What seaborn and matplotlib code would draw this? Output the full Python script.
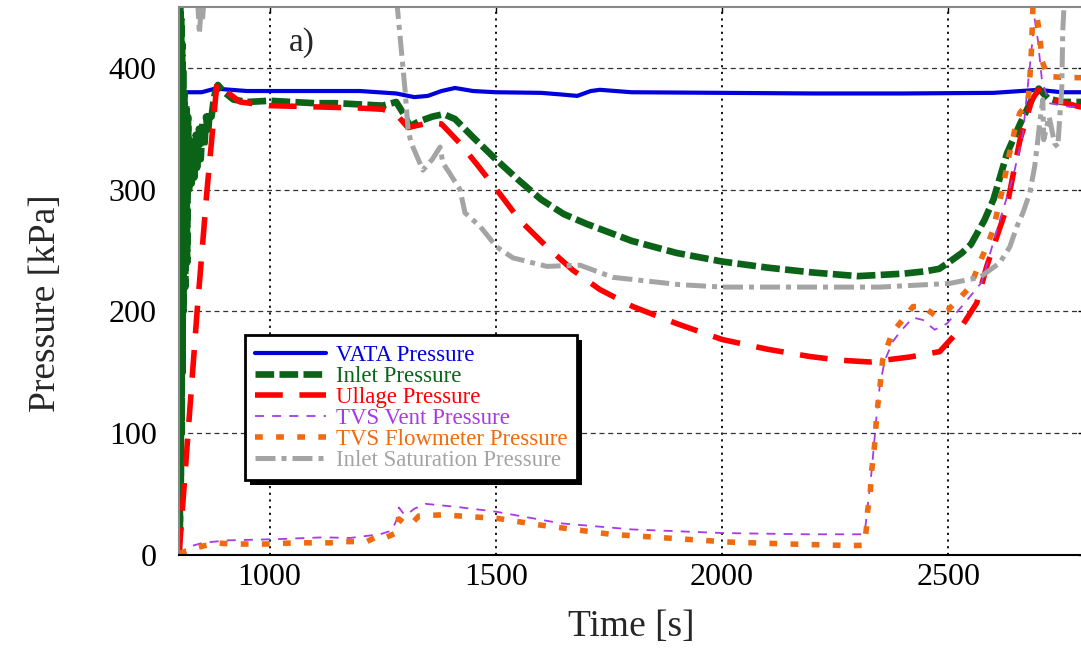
import matplotlib
matplotlib.use("Agg")
import matplotlib.pyplot as plt
from matplotlib.patches import Rectangle
import seaborn as sns

# ---------------- data ----------------
vata_t = [800, 850, 880, 950, 1000, 1100, 1200, 1280, 1320, 1350, 1380, 1410, 1450, 1500,
          1600, 1650, 1680, 1710, 1730, 1800, 2000, 2200, 2400, 2600, 2700, 2750, 2800]
vata_p = [380, 380, 383, 381, 381, 381, 381, 379, 376, 377, 381, 383.5, 381, 380,
          379.5, 378, 377, 381, 382, 380, 379.5, 379, 379, 379.5, 382, 380, 380]

inlet_t = [800, 801, 802, 803, 804, 805, 806, 807, 808, 809, 810, 812, 814, 816, 818, 820, 822,
           825, 828, 831, 834, 837, 840, 844, 848, 852, 856, 860, 864, 868, 872, 876, 880, 886,
           900, 920, 950, 1000, 1050, 1100, 1150, 1200, 1250, 1280, 1300, 1310, 1330, 1360, 1385,
           1410, 1450, 1500, 1550, 1600, 1650, 1700, 1750, 1800, 1900, 2000, 2100, 2200, 2300,
           2350, 2400, 2450, 2480, 2500, 2530, 2550, 2580, 2600, 2630, 2660, 2690, 2700, 2720,
           2750, 2800]
inlet_p = [0, 460, 20, 450, 60, 440, 100, 420, 150, 400, 200, 380, 220, 370, 240, 360, 300,
           340, 305, 335, 310, 345, 318, 350, 325, 355, 335, 360, 345, 365, 360, 372, 380, 386,
           380, 374, 372, 373, 372, 371, 371, 370, 369, 372, 360, 352, 356, 360, 362,
           358, 343, 325, 308, 292, 280, 272, 265, 258, 248, 241, 236, 232, 229,
           230, 231, 233, 235, 240, 248, 255, 275, 292, 330, 355, 378, 383, 375,
           372, 372]

ullage_t = [800, 820, 840, 862, 884, 900, 935, 1000, 1100, 1200, 1250, 1280, 1306, 1330, 1355,
            1380, 1421, 1460, 1502, 1553, 1613, 1670, 1730, 1803, 1900, 2000, 2100, 2194, 2260,
            2327, 2415, 2481, 2525, 2563, 2585, 2629, 2658, 2685, 2700, 2709, 2750, 2791, 2800]
ullage_p = [0, 100, 200, 300, 388, 382, 372, 369, 368, 367, 366, 362, 351, 353, 355,
            354, 338, 320, 300, 275, 253, 234, 218, 204, 190, 177, 169, 163, 160,
            158.5, 162.6, 167, 185, 207, 237, 285, 340, 374, 382, 377, 372, 368, 368]

vent_t = [800, 806, 820, 853, 906, 1016, 1118, 1178, 1244, 1270, 1280, 1286, 1298, 1310, 1320,
          1345, 1411, 1500, 1644, 1801, 2004, 2190, 2309, 2316, 2322, 2331, 2342, 2349, 2360,
          2377, 2393, 2422, 2444, 2470, 2497, 2532, 2574, 2610, 2643, 2665, 2684, 2691, 2698,
          2707, 2723, 2768, 2800]
vent_p = [0, 2, 6.6, 10, 12, 13, 14.5, 14, 17, 20, 28, 39, 33, 35, 38,
          42, 39.6, 35.6, 26, 21, 18, 17, 17, 20, 40, 70, 116, 140, 160,
          175, 183, 195, 193, 185, 190, 205, 224, 270, 310, 346, 415, 440, 423,
          390, 371, 368, 368]

flow_t = [800, 828, 857, 886, 919, 990, 1060, 1134, 1163, 1196, 1215, 1237, 1255, 1279, 1286,
          1301, 1317, 1330, 1381, 1505, 1598, 1754, 1918, 2017, 2150, 2289, 2312, 2316, 2320,
          2322, 2327, 2331, 2338, 2342, 2349, 2355, 2366, 2377, 2399, 2422, 2444, 2470, 2499,
          2525, 2548, 2574, 2588, 2599, 2621, 2632, 2647, 2658, 2676, 2680, 2684, 2688, 2692,
          2696, 2702, 2707, 2720, 2760, 2800]
flow_p = [1, 5, 7.7, 9.8, 9, 9, 10, 10, 11, 11, 11, 15, 14, 18, 29.6,
          25, 27, 32, 33, 30, 24.6, 17, 13, 10.6, 9, 7.7, 8, 12, 25,
          37, 48, 70, 93, 116, 138, 160, 172, 183, 193, 204, 204, 197, 201,
          211, 220, 244, 256, 267, 302, 324, 349, 363, 371, 390, 415, 460, 460,
          442, 428, 406, 393, 392, 392]

sat_t = [800, 838, 842, 845, 849, 852, 860, 1000, 1200, 1275, 1290, 1300, 1306, 1312, 1317,
         1339, 1360, 1377, 1383, 1399, 1421, 1432, 1465, 1502, 1538, 1613, 1686, 1759, 1907,
         2002, 2349, 2503, 2570, 2614, 2636, 2652, 2665, 2680, 2691, 2698, 2702, 2709, 2711,
         2723, 2735, 2742, 2751, 2753, 2760, 2800]
sat_p = [480, 480, 450, 428, 450, 440, 480, 480, 480, 480, 420, 380, 350, 340, 335,
         316, 325, 335, 322, 313, 300, 281, 270, 253, 244, 237, 238, 228, 222,
         220, 220, 223, 228, 240, 253, 270, 281, 297, 319, 341, 355, 374, 341,
         360, 338, 335, 384, 430, 480, 480]

labels = ["VATA Pressure", "Inlet Pressure", "Ullage Pressure", "TVS Vent Pressure",
          "TVS Flowmeter Pressure", "Inlet Saturation Pressure"]
x_ticks = [1000, 1500, 2000, 2500]
y_ticks = [0, 100, 200, 300, 400]

# ---------------- styling ----------------
sns.set_theme(style="white")
plt.rcParams['font.family'] = ['Liberation Serif', 'DejaVu Serif']

W, H = 1081, 652
fig = plt.figure(figsize=(W / 100, H / 100), dpi=100)
ax = fig.add_axes([179 / W, 97 / H, 905 / W, 548 / H])

series = [
    (vata_t, vata_p, "#0000dd", 3.0, "-", "round"),
    (inlet_t, inlet_p, "#0b6318", 4.8, (0, (2.8, 0.8)), "butt"),
    (ullage_t, ullage_p, "#ff0000", 4.0, (0, (5, 3)), "butt"),
    (vent_t, vent_p, "#a63ae6", 1.3, (0, (5, 4.5)), "butt"),
    (flow_t, flow_p, "#f06a10", 4.0, (0, (1.4, 2.4)), "butt"),
    (sat_t, sat_p, "#a4a4a4", 3.6, (0, (4, 1.2, 1, 1.2)), "butt"),
]
for (t, p, c, lw, ls, cap), name in zip(series, labels):
    sns.lineplot(x=t, y=p, ax=ax, color=c, lw=lw, linestyle=ls, label=name,
                 sort=False, estimator=None, dash_capstyle=cap, solid_capstyle=cap)

ax.set_xlim(800, 2800)
ax.set_ylim(0, 450)
ax.set_xticks(x_ticks)
ax.set_yticks(y_ticks)
ax.set_axisbelow(True)
ax.yaxis.grid(True, linestyle=(0, (4, 3)), color="#333333", lw=0.9)
ax.xaxis.grid(True, linestyle=(0, (1.2, 2.5)), color="black", lw=1.3)

ax.tick_params(axis="both", direction="in", length=4, width=1, labelsize=23,
               top=True, right=True, colors="black")
ax.tick_params(axis="x", pad=6)
ax.tick_params(axis="y", pad=16)

for side in ["left", "top"]:
    ax.spines[side].set_color("#888888")
    ax.spines[side].set_linewidth(1.5)
ax.spines["bottom"].set_color("black")
ax.spines["bottom"].set_linewidth(1.5)

ax.set_xlabel("Time [s]", fontsize=27)
ax.set_ylabel("Pressure [kPa]", fontsize=27)
ax.xaxis.set_label_coords(0.5, -0.1)
ax.yaxis.set_label_coords(-0.128, 0.46)

ax.text(1043, 421, "a)", fontsize=24, ha="left", va="center")

leg = ax.legend(loc="upper left", bbox_to_anchor=(245 / W, 1 - 335 / H),
                bbox_transform=fig.transFigure, frameon=True, fancybox=False,
                shadow=False, edgecolor="black", framealpha=1,
                prop={"family": "Liberation Serif", "size": 16.5}, handlelength=3.1,
                handletextpad=0.45, labelspacing=0.0, borderpad=0.42, borderaxespad=0,
                labelcolor="linecolor")
leg.get_frame().set_linewidth(2)

# thick black drop shadow like the reference
fig.canvas.draw()
bb = leg.get_window_extent()
shadow = Rectangle((bb.x0 + 5, bb.y0 - 5), bb.width, bb.height, transform=None,
                   facecolor="black", edgecolor="none", zorder=4.9, clip_on=False)
ax.add_patch(shadow)

fig.savefig("out.png", dpi=100)
